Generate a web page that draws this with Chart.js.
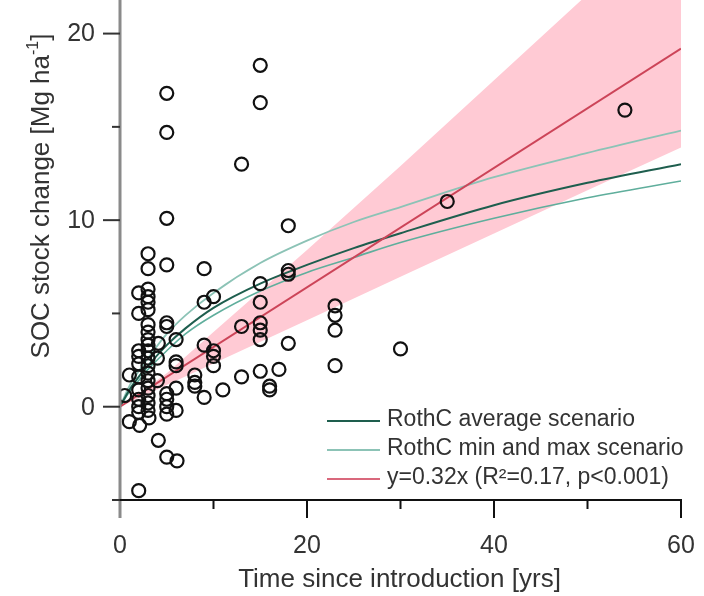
<!DOCTYPE html>
<html>
<head>
<meta charset="utf-8">
<script src="https://cdn.jsdelivr.net/npm/chart.js@4.4.0/dist/chart.umd.min.js"></script>
<style>
html,body{margin:0;padding:0;background:#fff;}
#wrap{width:704px;height:596px;}
</style>
</head>
<body>
<div id="wrap"><canvas id="c" width="704" height="596"></canvas></div>
<script>
// ---- data ----
const pointX = [1.0,1.0,0.5,
  2.0,2.0,2.0,2.0,2.0,2.0,2.0,2.0,2.0,2.0,2.1,2.0,
  3.0,3.0,3.0,3.0,3.0,3.0,3.0,3.0,3.0,3.0,3.0,3.0,3.0,3.0,3.0,3.0,3.0,3.0,3.0,3.1,
  4.1,4.0,4.0,4.1,
  5.0,5.0,5.0,5.0,5.0,5.0,5.0,5.0,5.0,5.0,5.0,
  6.0,6.0,6.0,6.0,6.0,6.1,
  8.0,8.0,8.0,
  9.0,9.0,9.0,9.0,
  10.0,10.0,10.0,10.0,
  11.0,
  13.0,13.0,13.0,
  15.0,15.0,15.0,15.0,15.0,15.0,15.0,15.0,
  16.0,16.0,
  17.0,
  18.0,18.0,18.0,18.0,
  23.0,23.0,23.0,23.0,
  30.0,35.0,54.0];
const pointY = [1.7,-0.8,0.6,
  6.1,5.0,3.0,2.7,2.3,1.6,0.9,0.4,0.0,-0.3,-1.0,-4.5,
  8.2,7.4,6.3,5.9,5.6,5.2,4.4,4.0,3.6,3.3,3.0,2.6,2.2,1.8,1.4,1.0,0.6,0.2,-0.2,-0.6,
  3.4,2.6,1.4,-1.8,
  16.8,14.7,10.1,7.6,4.5,4.3,0.7,0.4,0.0,-0.4,-2.7,
  3.6,2.4,2.2,1.0,-0.2,-2.9,
  1.7,1.3,1.1,
  7.4,5.6,3.3,0.5,
  5.9,3.0,2.7,2.2,
  0.9,
  13.0,4.3,1.6,
  18.3,16.3,6.6,5.6,4.5,4.1,3.6,1.9,
  1.1,0.9,
  2.0,
  9.7,7.3,7.1,3.4,
  5.4,4.9,4.1,2.2,
  3.1,11.0,15.9];

const curveX   = [0,1,2,3,5,7,10,15,20,25,30,40,50,60];
const rothAvg  = [0,0.9,1.6,2.2,3.3,4.2,5.3,6.6,7.6,8.5,9.3,10.8,12.0,13.0];
const rothMax  = [0,1.1,1.9,2.6,3.9,4.9,6.1,7.7,8.9,9.9,10.7,12.3,13.6,14.8];
const rothMin  = [0,0.8,1.4,2.0,3.0,3.9,4.9,6.2,7.2,8.0,8.8,10.1,11.2,12.1];

const fitX     = [0,60];
const fitY     = [0,19.2];

const bandX     = [0,5,10,20,30,40,50,60];
const bandUpper = [0,1.8,4.0,8.4,12.9,17.5,22.1,26.7];
const bandLower = [0,1.16,2.32,4.64,6.96,9.28,11.6,13.9];

const xMajorTicks = [0,20,40,60];
const xMinorTicks = [10,30,50];
const yMajorTicks = [0,10,20];
const yMinorTicks = [-5,5,15];

const legendLabels = ['RothC average scenario','RothC min and max scenario','y=0.32x (R\u00B2=0.17, p<0.001)'];
const xTitle = 'Time since introduction [yrs]';
const yTitleMain = 'SOC stock change [Mg ha';
const yTitleSup = '-1';
const yTitleEnd = ']';

// ---- styles ----
const C_AVG = '#1e5e4e';
const C_MM  = '#8cc3b6';
const C_FIT = '#cc4458';
const C_BAND = '#ffcad4';
const FONT = '"Liberation Sans", Arial, sans-serif';

const zip = (xs, ys) => xs.map((x, i) => ({x: x, y: ys[i]}));

const axesPlugin = {
  id: 'axesPlugin',
  afterDatasetsDraw(chart) {
    const ctx = chart.ctx;
    const xs = chart.scales.x, ys = chart.scales.y;
    const x0 = xs.getPixelForValue(0);
    const yBase = ys.getPixelForValue(-5);
    ctx.save();
    // y axis
    ctx.strokeStyle = '#8a8a8a';
    ctx.lineWidth = 3;
    ctx.beginPath();
    ctx.moveTo(x0, 0);
    ctx.lineTo(x0, yBase + 18);
    ctx.stroke();
    // x axis
    ctx.strokeStyle = '#111';
    ctx.lineWidth = 2;
    ctx.beginPath();
    ctx.moveTo(x0 - 8, yBase);
    ctx.lineTo(xs.getPixelForValue(60) + 1, yBase);
    ctx.stroke();
    // y ticks
    ctx.strokeStyle = '#333';
    ctx.lineWidth = 2;
    yMajorTicks.forEach(v => {
      const p = ys.getPixelForValue(v);
      ctx.beginPath(); ctx.moveTo(x0 - 17, p); ctx.lineTo(x0, p); ctx.stroke();
    });
    yMinorTicks.forEach(v => {
      const p = ys.getPixelForValue(v);
      ctx.beginPath(); ctx.moveTo(x0 - 8, p); ctx.lineTo(x0, p); ctx.stroke();
    });
    // x ticks
    ctx.strokeStyle = '#111';
    xMajorTicks.forEach(v => {
      const p = xs.getPixelForValue(v);
      if (v === 0) return;
      ctx.beginPath(); ctx.moveTo(p, yBase); ctx.lineTo(p, yBase + 18); ctx.stroke();
    });
    xMinorTicks.forEach(v => {
      const p = xs.getPixelForValue(v);
      ctx.beginPath(); ctx.moveTo(p, yBase); ctx.lineTo(p, yBase + 9); ctx.stroke();
    });
    // labels
    ctx.fillStyle = '#333';
    ctx.font = '25px ' + FONT;
    ctx.textAlign = 'right';
    ctx.textBaseline = 'middle';
    yMajorTicks.forEach(v => {
      ctx.fillText(String(v), 95, ys.getPixelForValue(v) + 1);
    });
    ctx.textAlign = 'center';
    xMajorTicks.forEach(v => {
      ctx.fillText(String(v), xs.getPixelForValue(v), 546);
    });
    // x title
    ctx.font = '26px ' + FONT;
    ctx.fillText(xTitle, (xs.left + xs.right) / 2 - 1, 580);
    // y title rotated
    ctx.save();
    ctx.translate(42, 196);
    ctx.rotate(-Math.PI / 2);
    ctx.font = '26px ' + FONT;
    const w1 = ctx.measureText(yTitleMain).width;
    ctx.font = '16px ' + FONT;
    const w2 = ctx.measureText(yTitleSup).width;
    ctx.font = '26px ' + FONT;
    const w3 = ctx.measureText(yTitleEnd).width;
    const tw = w1 + w2 + w3;
    let sx = -tw / 2;
    ctx.textAlign = 'left';
    ctx.textBaseline = 'middle';
    ctx.fillText(yTitleMain, sx, 0);
    ctx.font = '16px ' + FONT;
    ctx.fillText(yTitleSup, sx + w1, -8);
    ctx.font = '26px ' + FONT;
    ctx.fillText(yTitleEnd, sx + w1 + w2, 0);
    ctx.restore();
    // legend
    const rows = [420, 449, 478];
    const cols = [C_AVG, C_MM, '#d9687c'];
    ctx.font = '23px ' + FONT;
    ctx.textAlign = 'left';
    ctx.textBaseline = 'middle';
    rows.forEach((ry, i) => {
      ctx.strokeStyle = cols[i];
      ctx.lineWidth = 2;
      ctx.beginPath(); ctx.moveTo(327, ry + 1); ctx.lineTo(380, ry + 1); ctx.stroke();
      ctx.fillStyle = '#333';
      ctx.fillText(legendLabels[i], 387, ry);
    });
    ctx.restore();
  }
};

new Chart(document.getElementById('c'), {
  type: 'scatter',
  data: {
    datasets: [
      { type: 'line', label: 'band upper', data: zip(bandX, bandUpper), borderWidth: 0, pointRadius: 0, backgroundColor: C_BAND, fill: '+1', order: 10 },
      { type: 'line', label: 'band lower', data: zip(bandX, bandLower), borderWidth: 0, pointRadius: 0, backgroundColor: C_BAND, fill: false, order: 9 },
      { type: 'line', label: 'max', data: zip(curveX, rothMax), borderColor: C_MM, borderWidth: 1.8, pointRadius: 0, fill: false, cubicInterpolationMode: 'monotone', order: 5 },
      { type: 'line', label: 'min', data: zip(curveX, rothMin), borderColor: '#5fae9c', borderWidth: 1.6, pointRadius: 0, fill: false, cubicInterpolationMode: 'monotone', order: 5 },
      { type: 'line', label: 'avg', data: zip(curveX, rothAvg), borderColor: C_AVG, borderWidth: 2, pointRadius: 0, fill: false, cubicInterpolationMode: 'monotone', order: 4 },
      { type: 'line', label: 'fit', data: zip(fitX, fitY), borderColor: C_FIT, borderWidth: 2, pointRadius: 0, fill: false, order: 3 },
      { type: 'scatter', label: 'obs', data: zip(pointX, pointY), pointStyle: 'circle', pointRadius: 6.5, borderWidth: 2.2, borderColor: '#111', backgroundColor: 'rgba(0,0,0,0)', order: 1 }
    ]
  },
  options: {
    responsive: false,
    animation: false,
    devicePixelRatio: 1,
    layout: { autoPadding: false, padding: { left: 120, right: 23, top: 0, bottom: 96 } },
    plugins: { legend: { display: false }, tooltip: { enabled: false } },
    scales: {
      x: { type: 'linear', min: 0, max: 60, display: false },
      y: { type: 'linear', min: -5, max: 21.8, display: false }
    }
  },
  plugins: [axesPlugin]
});
</script>
</body>
</html>
